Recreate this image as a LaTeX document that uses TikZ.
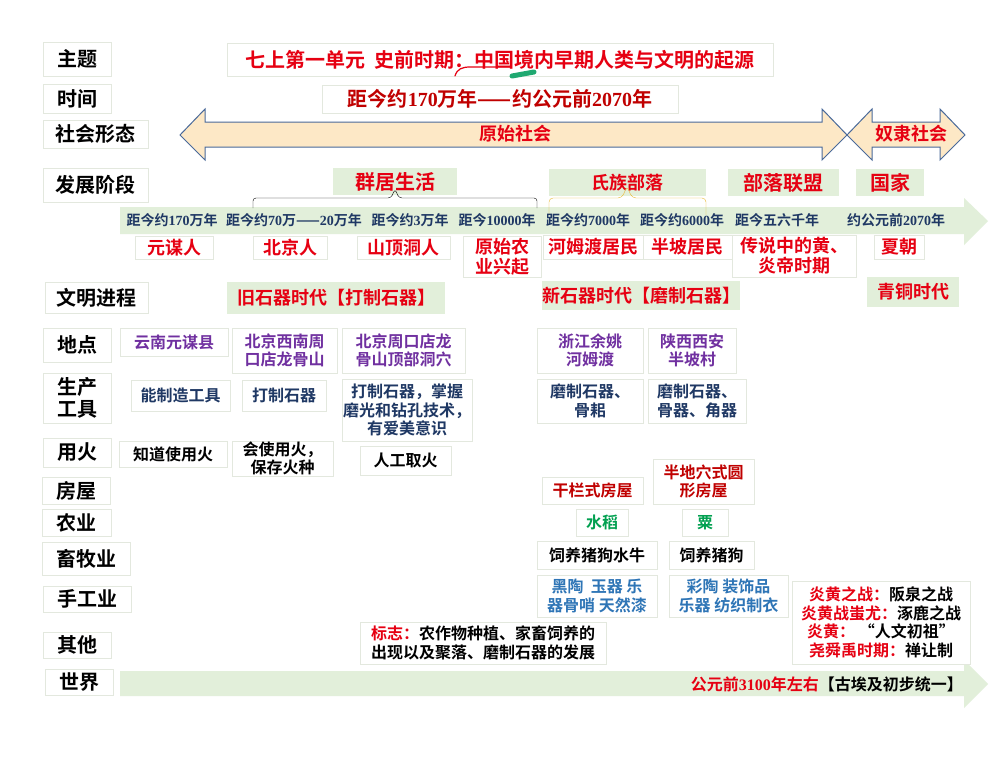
\documentclass[tikz,border=0pt]{standalone}
\usepackage{fontspec}
\setmainfont{Noto Sans CJK SC}[BoldFont={Noto Sans CJK SC Bold}]
\newfontfamily\shu{Liberation Serif}
\definecolor{hong}{HTML}{E60012}
\definecolor{anhong}{HTML}{C00000}
\definecolor{zi}{HTML}{7030A0}
\definecolor{lan}{HTML}{1F3864}
\definecolor{lv}{HTML}{00A050}
\definecolor{qianlan}{HTML}{2E75B6}
\definecolor{danlv}{HTML}{E2EFDA}
\definecolor{xing}{HTML}{FDE8C6}
\definecolor{bian}{HTML}{4A6A9A}
\definecolor{kuang}{HTML}{E3E8DE}
\definecolor{jin}{HTML}{E8B830}
\definecolor{biji}{HTML}{1FA870}

\begin{document}
\begin{tikzpicture}[x=1pt, y=-1pt,
  lbl/.style={draw=kuang, line width=0.8pt, fill=white, align=center, inner sep=0pt,
              font=\fontsize{20}{22}\selectfont\bfseries},
  cell/.style={draw=kuang, line width=0.8pt, fill=white, align=center, inner sep=0pt,
               font=\fontsize{16}{18.5}\selectfont\bfseries},
  nm/.style={cell, text=hong, font=\fontsize{18}{20}\selectfont\bfseries},
  stg/.style={fill=danlv, text=hong, inner sep=0pt, font=\fontsize{20}{23}\selectfont\bfseries},
  era/.style={stg, font=\fontsize{18}{21}\selectfont\bfseries},
  tl/.style={text=lan, inner sep=0pt, font=\fontsize{14}{16}\selectfont\bfseries},
  soc/.style={fill=xing, draw=bian, line width=1pt, line join=miter},
  band/.style={fill=danlv}
]
\useasboundingbox[fill=white] (0,0) rectangle (1008,756);

\fill[band] (120,207) -- (964,207) -- (964,198) -- (988,221) -- (964,245) -- (964,234) -- (120,234) -- cycle;
\fill[band] (120,671) -- (964,671) -- (964,660) -- (988,684) -- (964,708) -- (964,696) -- (120,696) -- cycle;
\draw[soc] (180,135) -- (205,109) -- (205,122) -- (822,122) -- (822,109) -- (847,135)
  -- (822,160) -- (822,147) -- (205,147) -- (205,160) -- cycle;
\draw[soc] (847,135) -- (872,109) -- (872,122) -- (940,122) -- (940,109) -- (965,135)
  -- (940,160) -- (940,147) -- (872,147) -- (872,160) -- cycle;

\node[lbl, minimum width=68, minimum height=34] (zt) at (77,59) {主题};
\node[lbl, minimum width=68, minimum height=29] (sj) at (77,98.5) {时间};
\node[lbl, minimum width=105, minimum height=28] (shxt) at (95.5,134) {社会形态};
\node[lbl, minimum width=105, minimum height=34] (fzjd) at (95.5,185) {发展阶段};
\node[lbl, minimum width=103, minimum height=31] (wmjc) at (96.5,297.5) {文明进程};
\node[lbl, minimum width=68, minimum height=34] (dd) at (77,345) {地点};
\node[lbl, minimum width=68, minimum height=50] (scgj) at (77,398) {生产\\工具};
\node[lbl, minimum width=68, minimum height=29] (yh) at (77,452.5) {用火};
\node[lbl, minimum width=68, minimum height=27] (fw) at (76,490.5) {房屋};
\node[lbl, minimum width=69, minimum height=27] (ny) at (76.5,522.5) {农业};
\node[lbl, minimum width=88, minimum height=33] (xmy) at (86,558.5) {畜牧业};
\node[lbl, minimum width=88, minimum height=26] (sgy) at (87,599) {手工业};
\node[lbl, minimum width=68, minimum height=26] (qt) at (77,645) {其他};
\node[lbl, minimum width=68, minimum height=26] (sjie) at (79,682) {世界};

\node[lbl, text=hong, minimum width=546, minimum height=33] (zhuti) at (500,59.5)
  {七上第一单元\ \ 史前时期：中国境内早期人类与文明的起源};
\draw[hong, line width=1.2pt, line cap=round] (455,76) .. controls (457,69) and (462,67) .. (470,67) -- (497,67);
\draw[biji, line width=5pt, line cap=round] (512,76) -- (534,72);
\node[lbl, text=anhong, minimum width=356, minimum height=28] (shijian) at (500,99)
  {距今约{\shu 170}万年——约公元前{\shu 2070}年};

\node[text=hong, inner sep=0pt, font=\fontsize{18}{21}\selectfont\bfseries] (yssh) at (515,134) {原始社会};
\node[text=hong, inner sep=0pt, font=\fontsize{18}{21}\selectfont\bfseries] (nlsh) at (911,134) {奴隶社会};

\node[stg, minimum width=124, minimum height=27] (qj) at (395,181.5) {群居生活};
\node[era, minimum width=157, minimum height=27] (szbl) at (627.5,182.5) {氏族部落};
\node[stg, minimum width=111, minimum height=27] (blm) at (783.5,182.5) {部落联盟};
\node[stg, minimum width=68, minimum height=27] (gj) at (890,182.5) {国家};
\draw[rounded corners=3pt] (253,208) -- (253,198) -- (391,198) -- (395,189) -- (399,198) -- (537,198) -- (537,208);
\draw[jin, rounded corners=4pt] (549,214) -- (549,198) -- (622,198) -- (627,186) -- (632,198) -- (706,198) -- (706,215);

\node[tl] (t1) at (172,220.5) {距今约{\shu 170}万年};
\node[tl] (t2) at (294,220.5) {距今约{\shu 70}万——{\shu 20}万年};
\node[tl] (t3) at (410,220.5) {距今约{\shu 3}万年};
\node[tl] (t4) at (497,220.5) {距今{\shu 10000}年};
\node[tl] (t5) at (588,220.5) {距今约{\shu 7000}年};
\node[tl] (t6) at (682,220.5) {距今约{\shu 6000}年};
\node[tl] (t7) at (777,220.5) {距今五六千年};
\node[tl] (t8) at (896,220.5) {约公元前{\shu 2070}年};

\node[nm, minimum width=78, minimum height=23] (ymr) at (174,247.5) {元谋人};
\node[nm, minimum width=74, minimum height=23] (bjr) at (290,247.5) {北京人};
\node[nm, minimum width=93, minimum height=23] (sdd) at (403.5,247.5) {山顶洞人};
\node[nm, minimum width=78, minimum height=41] (ysny) at (502,256.5) {原始农\\业兴起};
\node[nm, minimum width=100, minimum height=24] (hmd) at (593,247) {河姆渡居民};
\node[nm, minimum width=89, minimum height=24] (bpj) at (687.5,247) {半坡居民};
\node[nm, minimum width=124, minimum height=42] (hydi) at (794,256) {传说中的黄、\\炎帝时期};
\node[nm, minimum width=50, minimum height=24] (xc) at (899,247) {夏朝};

\node[era, minimum width=218, minimum height=32] (jsq) at (336,298) {旧石器时代【打制石器】};
\node[era, minimum width=198, minimum height=29] (xsq) at (641,295.5) {新石器时代【磨制石器】};
\node[era, minimum width=92, minimum height=30] (qtsd) at (913,292) {青铜时代};

\node[cell, text=zi, minimum width=108, minimum height=28] (p1) at (174,342) {云南元谋县};
\node[cell, text=zi, minimum width=105, minimum height=45] (p2) at (284.5,350.5) {北京西南周\\口店龙骨山};
\node[cell, text=zi, minimum width=123, minimum height=45] (p3) at (403.5,350.5) {北京周口店龙\\骨山顶部洞穴};
\node[cell, text=zi, minimum width=106, minimum height=45] (p4) at (590,350.5) {浙江余姚\\河姆渡};
\node[cell, text=zi, minimum width=88, minimum height=45] (p5) at (692,350.5) {陕西西安\\半坡村};

\node[cell, text=lan, minimum width=99, minimum height=31] (g1) at (180.5,395.5) {能制造工具};
\node[cell, text=lan, minimum width=84, minimum height=31] (g2) at (284,395.5) {打制石器};
\node[cell, text=lan, minimum width=130, minimum height=62] (g3) at (407,410) {打制石器，掌握\\磨光和钻孔技术，\\有爱美意识};
\node[cell, text=lan, minimum width=106, minimum height=44] (g4) at (590,401) {磨制石器、\\骨耜};
\node[cell, text=lan, minimum width=98, minimum height=44] (g5) at (697,401) {磨制石器、\\骨器、角器};

\node[cell, minimum width=108, minimum height=26] (f1) at (173,454) {知道使用火};
\node[cell, minimum width=101, minimum height=35] (f2) at (282.5,458.5) {会使用火，\\保存火种};
\node[cell, minimum width=91, minimum height=29] (f3) at (405.5,460.5) {人工取火};

\node[cell, text=anhong, minimum width=101, minimum height=27] (h1) at (592.5,490.5) {干栏式房屋};
\node[cell, text=anhong, minimum width=101, minimum height=45] (h2) at (703.5,481.5) {半地穴式圆\\形房屋};

\node[cell, text=lv, minimum width=52, minimum height=27] (a1) at (602,522.5) {水稻};
\node[cell, text=lv, minimum width=46, minimum height=27] (a2) at (705,522.5) {粟};

\node[cell, minimum width=120, minimum height=28] (l1) at (597,555) {饲养猪狗水牛};
\node[cell, minimum width=85, minimum height=28] (l2) at (711.5,555) {饲养猪狗};

\node[cell, text=qianlan, minimum width=120, minimum height=42] (c1) at (597,596) {黑陶\ \ 玉器 乐\\器骨哨 天然漆};
\node[cell, text=qianlan, minimum width=119, minimum height=42] (c2) at (728.5,596) {彩陶 装饰品\\乐器 纺织制衣};

\node[cell, align=left, minimum width=246, minimum height=42] (o1) at (483,643)
  {\textcolor{hong}{标志：}农作物种植、家畜饲养的\\出现以及聚落、磨制石器的发展};
\node[cell, minimum width=178, minimum height=83] (o2) at (881,622.5)
  {\textcolor{hong}{炎黄之战：}阪泉之战\\\textcolor{hong}{炎黄战蚩尤：}涿鹿之战\\
   \textcolor{hong}{炎黄：}\ “人文初祖”\\\textcolor{hong}{尧舜禹时期：}禅让制};

\node[anchor=east, inner sep=0pt, font=\fontsize{16}{19}\selectfont\bfseries] (w1) at (963,684)
  {\textcolor{hong}{公元前{\shu 3100}年左右}【古埃及初步统一】};
\end{tikzpicture}
\end{document}
